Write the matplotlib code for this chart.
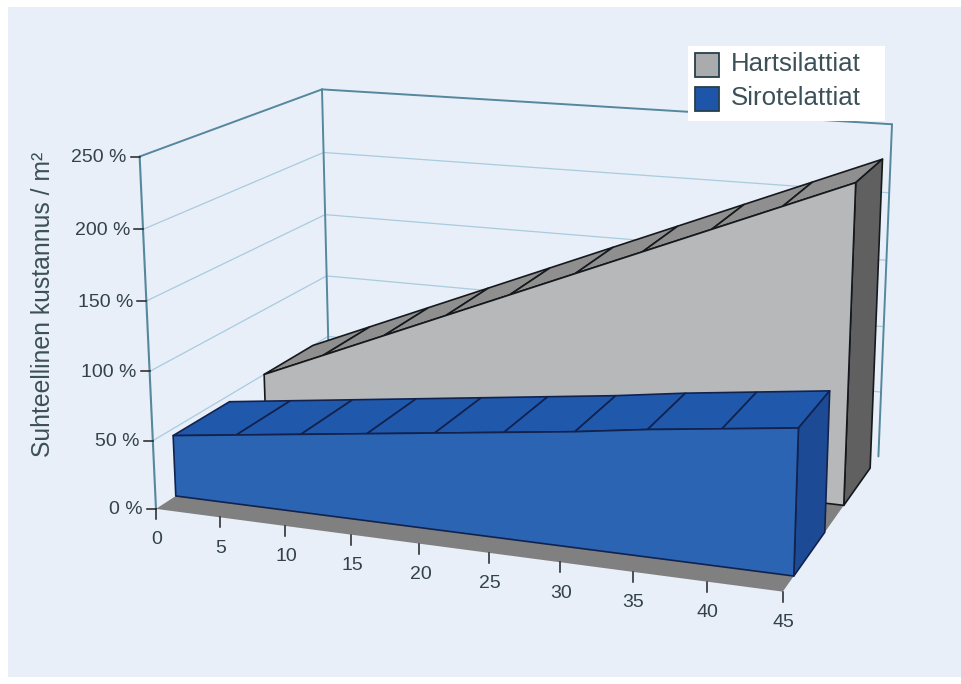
import numpy as np
import matplotlib
matplotlib.use("Agg")
import matplotlib.pyplot as plt
from matplotlib.patches import Polygon, Rectangle

plt.rcParams['font.family'] = ['Liberation Sans', 'DejaVu Sans']

# chart values
x_vals = [0, 5, 10, 15, 20, 25, 30, 35, 40, 45]
hartsi = [50, 70, 90, 110, 130, 150, 170, 190, 210, 230]
sirote = [45, 51, 57, 63, 69, 75, 81, 88, 94, 100]
y_ticks = [0, 50, 100, 150, 200, 250]
series_names = ["Hartsilattiat", "Sirotelattiat"]
y_title = "Suhteellinen kustannus / m²"

X_MAX = 45.0
Y_MAX = 250.0

# camera anchors: (x, value, depth) -> screen pixel
anchors = [
    ((0, 0, 0), (155, 508)),
    ((45, 0, 0), (783, 591)),
    ((15, 0, 0), (351, 535)),
    ((35, 0, 0), (633, 572)),
    ((0, 100, 0), (150, 372)),
    ((0, 250, 0), (140, 157)),
    ((0, 250, 1), (321, 89)),
    ((0, 100, 1), (328, 276)),
    ((45, 250, 1), (892, 124)),
    ((45, 0, 1), (878, 457)),
]


def fit_camera(pairs):
    rows = []
    for (x, y, d), (u, v) in pairs:
        p = [x / X_MAX, y / Y_MAX, d, 1]
        u, v = u / 1000, v / 1000
        rows.append(p + [0, 0, 0, 0] + [-u * c for c in p])
        rows.append([0, 0, 0, 0] + p + [-v * c for c in p])
    _, _, vt = np.linalg.svd(np.array(rows))
    return vt[-1].reshape(3, 4)


CAM = fit_camera(anchors)


def proj(x, y, d):
    h = CAM @ np.array([x / X_MAX, y / Y_MAX, d, 1.0])
    return h[0] / h[2] * 1000, h[1] / h[2] * 1000


def poly(ax, pts, fc, ec="none", lw=0.0, z=2):
    ax.add_patch(Polygon([proj(*p) for p in pts], closed=True, facecolor=fc,
                         edgecolor=ec, linewidth=lw, joinstyle="round", zorder=z))


def seg(ax, a, b, color, lw, z=2):
    pa, pb = proj(*a), proj(*b)
    ax.plot([pa[0], pb[0]], [pa[1], pb[1]], color=color, lw=lw, zorder=z,
            solid_capstyle="round")


def area_3d(ax, xs, ys, d0, d1, front, top, side, edge, z):
    # slanted top ribbon with one cell per x step
    for i in range(len(xs) - 1):
        poly(ax, [(xs[i], ys[i], d0), (xs[i + 1], ys[i + 1], d0),
                  (xs[i + 1], ys[i + 1], d1), (xs[i], ys[i], d1)],
             top, edge, 1.2, z)
    # right end cap
    poly(ax, [(xs[-1], 0, d0), (xs[-1], ys[-1], d0),
              (xs[-1], ys[-1], d1), (xs[-1], 0, d1)], side, edge, 1.2, z)
    # front face
    pts = [(xs[0], 0, d0)] + [(a, b, d0) for a, b in zip(xs, ys)] + [(xs[-1], 0, d0)]
    poly(ax, pts, front, edge, 1.2, z + 0.1)


fig = plt.figure(figsize=(9.62, 6.84), dpi=100, facecolor="white")
ax = fig.add_axes([0, 0, 1, 1])
ax.set_xlim(0, 962)
ax.set_ylim(684, 0)
ax.axis("off")

ax.add_patch(Rectangle((8, 7), 954, 670, facecolor="#e8eff8", edgecolor="none", zorder=0))

# walls: gridlines first, then the frame
for v in y_ticks[1:-1]:
    seg(ax, (0, v, 0), (0, v, 1), "#a9cbe0", 0.9, 1)
    seg(ax, (0, v, 1), (45, v, 1), "#a9cbe0", 0.9, 1)
frame = "#55879d"
seg(ax, (0, 0, 0), (0, 250, 0), frame, 1.5, 1.2)
seg(ax, (0, 0, 1), (0, 250, 1), frame, 1.4, 1.2)
seg(ax, (0, 250, 0), (0, 250, 1), frame, 1.4, 1.2)
seg(ax, (0, 250, 1), (45, 250, 1), frame, 1.4, 1.2)
seg(ax, (45, 0, 1), (45, 250, 1), frame, 1.4, 1.2)

# floor stops at the back edge of the rear series
poly(ax, [(0, 0, 0), (45, 0, 0), (45, 0, 0.9), (0, 0, 0.9)], "#808080", z=1.5)

# series, back one first
area_3d(ax, x_vals, hartsi, 0.6, 0.9, "#b6b8ba", "#8f8f8f", "#606060", "#15181c", 3)
area_3d(ax, x_vals, sirote, 0.1, 0.4, "#2a64b2", "#2058ac", "#1c4a94", "#12224e", 4)

# ticks and their labels
text_col = "#33424a"
for v in y_ticks:
    px, py = proj(0, v, 0)
    ax.plot([px - 9, px], [py, py], color="#222222", lw=1.1, zorder=5)
    ax.text(px - 13, py + 1, "%d %%" % v, ha="right", va="center",
            fontsize=14, color=text_col)
for v in x_vals:
    px, py = proj(v, 0, 0)
    ax.plot([px, px], [py, py + 10], color="#222222", lw=1.1, zorder=5)
    ax.text(px + 1, py + 31, str(v), ha="center", va="center",
            fontsize=14, color=text_col)

ax.text(43, 304, y_title, rotation=90, ha="center", va="center",
        fontsize=17.8, color="#3c5058")

# legend box sits on top of the wall frame
ax.add_patch(Rectangle((688, 46), 197, 75, facecolor="white", edgecolor="none", zorder=6))
swatches = ["#a9abad", "#1f55a8"]
for i in range(2):
    top = 53 + i * 34
    ax.add_patch(Rectangle((695, top), 24, 24, facecolor=swatches[i],
                           edgecolor="#26404c", linewidth=1.3, zorder=7))
    ax.text(731, top + 11, series_names[i], ha="left", va="center",
            fontsize=18.6, color="#3c5058", zorder=7)

fig.savefig("out.png", dpi=100)
